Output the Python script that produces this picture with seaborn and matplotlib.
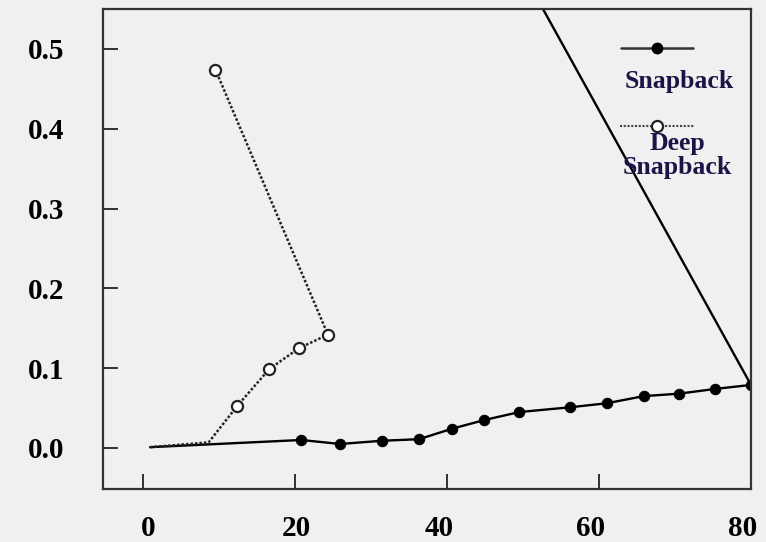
#!/usr/bin/env python3
# -*- coding: utf-8 -*-

import numpy as np
import matplotlib
matplotlib.use("Agg")
import matplotlib.pyplot as plt
import matplotlib.transforms as mtransforms
from matplotlib.lines import Line2D
import pandas as pd
import seaborn as sns

# Snapback (solid line, filled dots). Last point runs off the top of the chart.
snap_x = [0.9, 20.8, 25.9, 31.4, 36.3, 40.6, 44.9, 49.5, 56.2, 61.0, 65.9, 70.5, 75.3, 80.0, 40.0]
snap_y = [0.001, 0.010, 0.005, 0.009, 0.011, 0.024, 0.035, 0.045, 0.051, 0.056, 0.065, 0.068, 0.074, 0.079, 0.767]

# Deep Snapback (dotted line, open dots)
deep_x = [0.9, 8.6, 12.4, 16.6, 20.5, 24.3, 9.5]
deep_y = [0.001, 0.007, 0.053, 0.099, 0.125, 0.142, 0.474]

x_ticks = [0, 20, 40, 60, 80]
y_ticks = [0.0, 0.1, 0.2, 0.3, 0.4, 0.5]

bg = "#f0f0f0"
txt_col = "#1c1447"

sns.set_theme(style="white")
plt.rcParams["font.family"] = ["Liberation Serif", "DejaVu Serif"]
plt.rcParams["font.weight"] = "bold"

snap_df = pd.DataFrame({"x": snap_x, "y": snap_y})
deep_df = pd.DataFrame({"x": deep_x, "y": deep_y})

fig = plt.figure(figsize=(7.66, 5.42), dpi=100, facecolor=bg)
ax = fig.add_axes([0.1345, 0.0978, 0.8459, 0.8856], facecolor=bg)

#solid series, markers on all but the first point
sns.lineplot(data=snap_df, x="x", y="y", sort=False, ax=ax,
             color="black", lw=1.7, marker="o", markersize=7.5,
             markerfacecolor="black", markeredgecolor="black",
             markevery=list(range(1, len(snap_x))))

#dotted series, open markers from the third point on
sns.lineplot(data=deep_df, x="x", y="y", sort=False, ax=ax,
             color="#222222", lw=1.8, linestyle=(0, (1, 0.8)), marker="o",
             markersize=8, markerfacecolor="white", markeredgecolor="#222222",
             markeredgewidth=1.6, markevery=list(range(2, len(deep_x))))

ax.set_xlim(-5.3, 80)
ax.set_ylim(-0.0514, 0.55)
ax.set_xticks(x_ticks)
ax.set_yticks(y_ticks)
ax.set_xticklabels([str(v) for v in x_ticks])
ax.set_yticklabels([f"{v:.1f}" for v in y_ticks])
ax.set_xlabel("")
ax.set_ylabel("")

for s in ax.spines.values():
    s.set_color("#333333")
    s.set_linewidth(1.6)
    s.set_visible(True)

ax.tick_params(axis="both", direction="in", length=10.5, width=1.3,
               color="#222222", labelsize=21, labelcolor="black")
ax.tick_params(axis="y", pad=28, left=True)
ax.tick_params(axis="x", pad=19, bottom=True)
for lab in ax.get_xticklabels() + ax.get_yticklabels():
    lab.set_fontweight("bold")

# x labels in the original sit a little off their ticks
shifts = [5, 1, -8, -8, -8]
for lab, dx in zip(ax.get_xticklabels(), shifts):
    lab.set_transform(lab.get_transform() +
                      mtransforms.ScaledTranslation(dx / 100, 0, fig.dpi_scale_trans))

# legend drawn by hand (text sits under each key)
ax.add_line(Line2D([0.799, 0.911], [0.919, 0.919], transform=ax.transAxes,
                   color="#333333", lw=1.8))
ax.add_line(Line2D([0.855], [0.919], transform=ax.transAxes, marker="o",
                   markersize=7.5, color="black"))
ax.text(0.889, 0.848, "Snapback", transform=ax.transAxes, ha="center",
        va="center", fontsize=18.5, fontweight="bold", color=txt_col)

ax.add_line(Line2D([0.798, 0.913], [0.756, 0.756], transform=ax.transAxes,
                   color="#444444", lw=1.5, linestyle=(0, (1, 0.8))))
ax.add_line(Line2D([0.855], [0.756], transform=ax.transAxes, marker="o",
                   markersize=8, markerfacecolor="white", markeredgecolor="#222222",
                   markeredgewidth=1.6))
ax.text(0.886, 0.694, "Deep\nSnapback", transform=ax.transAxes, ha="center",
        va="center", fontsize=18.5, fontweight="bold", color=txt_col,
        linespacing=1.05)

fig.savefig("out.png", dpi=100, facecolor=bg)
